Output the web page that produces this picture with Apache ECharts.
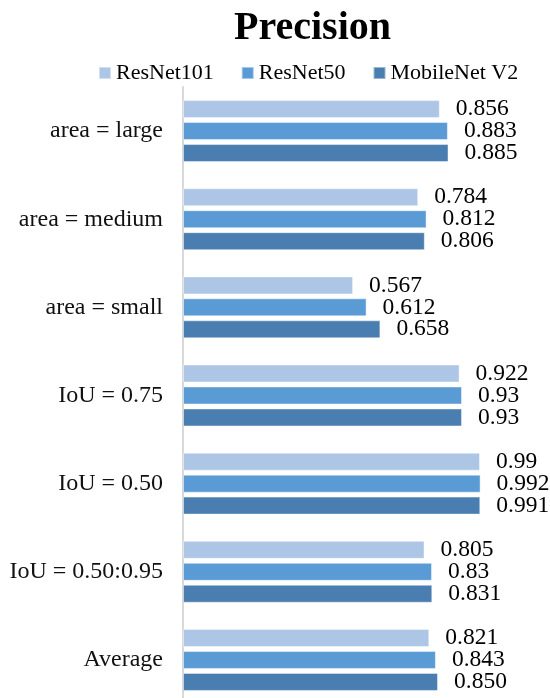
<!DOCTYPE html>
<html>
<head>
<meta charset="utf-8">
<script src="https://cdn.jsdelivr.net/npm/echarts@6/dist/echarts.min.js"></script>
<style>
  html, body { margin: 0; padding: 0; background: #fff; overflow: hidden; }
  /* a bit taller than the window so the last group can sit partly below the fold */
  #chart { width: 550px; height: 710px; }
</style>
</head>
<body>
<div id="chart"></div>
<script>
const categories = ['area = large', 'area = medium', 'area = small', 'IoU = 0.75', 'IoU = 0.50', 'IoU = 0.50:0.95', 'Average']
// kept as text so the labels show the same digits as the source
const resnet101 = ['0.856', '0.784', '0.567', '0.922', '0.99', '0.805', '0.821']
const resnet50 = ['0.883', '0.812', '0.612', '0.93', '0.992', '0.83', '0.843']
const mobilenetV2 = ['0.885', '0.806', '0.658', '0.93', '0.991', '0.831', '0.850']

const font = "'Liberation Serif', 'Times New Roman', serif"

const chart = echarts.init(document.getElementById('chart'))

const makeSeries = (name, values, color) => ({
  name,
  type: 'bar',
  data: values.map(Number),
  barWidth: 18,
  barGap: '22%',
  itemStyle: {
    color,
    borderColor: 'rgba(255, 255, 255, 0.45)',
    borderWidth: 1
  },
  label: {
    show: true,
    position: 'right',
    distance: 16,
    fontFamily: font,
    fontSize: 23.5,
    color: '#000',
    formatter: (p) => values[p.dataIndex]
  },
  emphasis: { disabled: true }
})

const option = {
  animation: false,
  title: {
    text: 'Precision',
    left: 229,
    top: 4,
    textStyle: {
      fontFamily: font,
      fontSize: 40,
      fontWeight: 'bold',
      color: '#000'
    }
  },
  legend: {
    data: ['ResNet101', 'ResNet50', 'MobileNet V2'],
    left: 93,
    top: 57,
    icon: 'rect',
    itemWidth: 12,
    itemHeight: 12,
    itemGap: 27,
    textStyle: {
      fontFamily: font,
      fontSize: 22,
      color: '#000'
    }
  },
  grid: {
    left: 183,
    right: 7,
    top: 87,
    bottom: 6,
    containLabel: false
  },
  xAxis: {
    type: 'value',
    min: 0,
    max: 1.2,
    show: false
  },
  yAxis: {
    type: 'category',
    data: categories,
    inverse: true,
    axisLine: {
      lineStyle: { color: '#d9d9d9', width: 2 }
    },
    axisTick: { show: false },
    axisLabel: {
      margin: 20,
      fontFamily: font,
      fontSize: 24,
      color: '#111'
    }
  },
  series: [
    makeSeries('ResNet101', resnet101, '#adc6e6'),
    makeSeries('ResNet50', resnet50, '#5b9bd5'),
    makeSeries('MobileNet V2', mobilenetV2, '#4a7eb0')
  ]
}

chart.setOption(option)
</script>
</body>
</html>
